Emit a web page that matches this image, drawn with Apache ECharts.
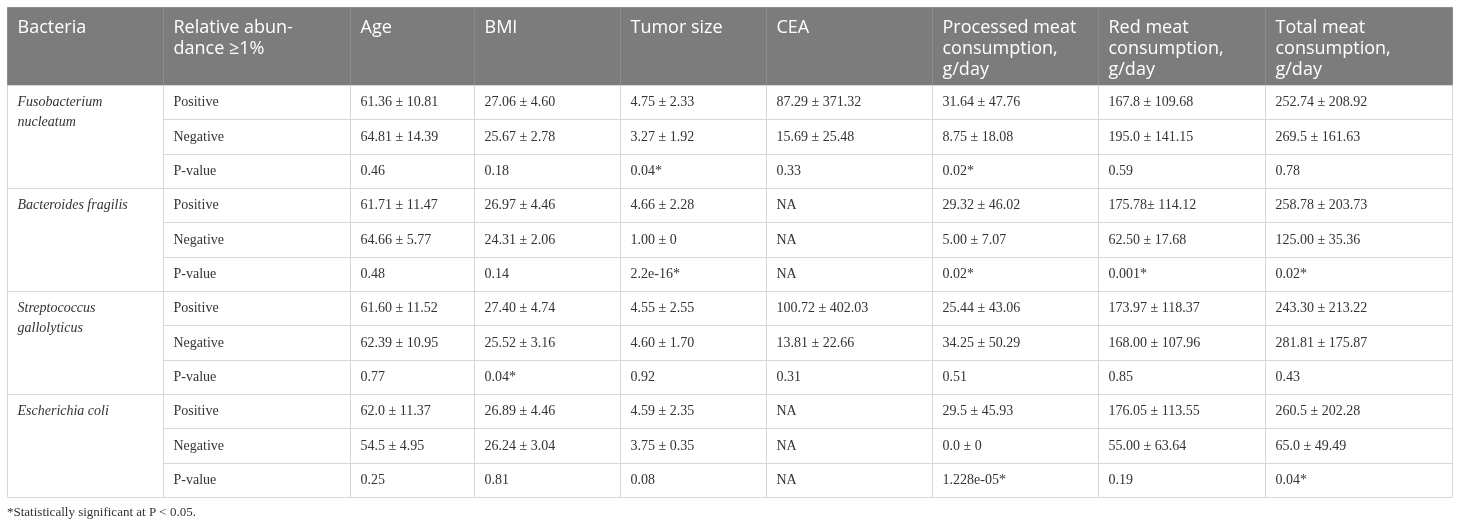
<!DOCTYPE html>
<html>
<head>
<meta charset="utf-8">
<script src="https://cdn.jsdelivr.net/npm/echarts@6/dist/echarts.min.js"></script>
<style>
  html, body { margin: 0; padding: 0; background: #fff; }
  #main { width: 1460px; height: 526px; }
</style>
</head>
<body>
<div id="main"></div>
<script>
"use strict";
// table text, one array per column
var headers = ['Bacteria', 'Relative abun-\ndance \u22651%', 'Age', 'BMI', 'Tumor size', 'CEA',
    'Processed meat\nconsumption,\ng/day', 'Red meat\nconsumption,\ng/day', 'Total meat\nconsumption,\ng/day'];
var bacteria = ['Fusobacterium nucleatum', 'Bacteroides fragilis', 'Streptococcus gallolyticus', 'Escherichia coli'];
var abundance = ['Positive', 'Negative', 'P-value'];
var age = ['61.36 \u00b1 10.81', '64.81 \u00b1 14.39', '0.46',
    '61.71 \u00b1 11.47', '64.66 \u00b1 5.77', '0.48',
    '61.60 \u00b1 11.52', '62.39 \u00b1 10.95', '0.77',
    '62.0 \u00b1 11.37', '54.5 \u00b1 4.95', '0.25'];
var bmi = ['27.06 \u00b1 4.60', '25.67 \u00b1 2.78', '0.18',
    '26.97 \u00b1 4.46', '24.31 \u00b1 2.06', '0.14',
    '27.40 \u00b1 4.74', '25.52 \u00b1 3.16', '0.04*',
    '26.89 \u00b1 4.46', '26.24 \u00b1 3.04', '0.81'];
var tumorSize = ['4.75 \u00b1 2.33', '3.27 \u00b1 1.92', '0.04*',
    '4.66 \u00b1 2.28', '1.00 \u00b1 0', '2.2e-16*',
    '4.55 \u00b1 2.55', '4.60 \u00b1 1.70', '0.92',
    '4.59 \u00b1 2.35', '3.75 \u00b1 0.35', '0.08'];
var cea = ['87.29 \u00b1 371.32', '15.69 \u00b1 25.48', '0.33',
    'NA', 'NA', 'NA',
    '100.72 \u00b1 402.03', '13.81 \u00b1 22.66', '0.31',
    'NA', 'NA', 'NA'];
var processedMeat = ['31.64 \u00b1 47.76', '8.75 \u00b1 18.08', '0.02*',
    '29.32 \u00b1 46.02', '5.00 \u00b1 7.07', '0.02*',
    '25.44 \u00b1 43.06', '34.25 \u00b1 50.29', '0.51',
    '29.5 \u00b1 45.93', '0.0 \u00b1 0', '1.228e-05*'];
var redMeat = ['167.8 \u00b1 109.68', '195.0 \u00b1 141.15', '0.59',
    '175.78\u00b1 114.12', '62.50 \u00b1 17.68', '0.001*',
    '173.97 \u00b1 118.37', '168.00 \u00b1 107.96', '0.85',
    '176.05 \u00b1 113.55', '55.00 \u00b1 63.64', '0.19'];
var totalMeat = ['252.74 \u00b1 208.92', '269.5 \u00b1 161.63', '0.78',
    '258.78 \u00b1 203.73', '125.00 \u00b1 35.36', '0.02*',
    '243.30 \u00b1 213.22', '281.81 \u00b1 175.87', '0.43',
    '260.5 \u00b1 202.28', '65.0 \u00b1 49.49', '0.04*'];
var footnote = '*Statistically significant at P < 0.05.';

// layout (pixel units of the hidden axes)
var colEdges = [0, 156, 343, 467, 613, 759, 925, 1091, 1258, 1445];
var headH = 78, tableH = 490;
var rowH = (tableH - headH) / 12;

// build cells: [col, row, rowSpan, kind] ; row -1 = header
var cells = [], texts = [];
headers.forEach(function(h, c) {
    cells.push([c, -1, 1, 0]); texts.push(h);
});
var valueCols = [age, bmi, tumorSize, cea, processedMeat, redMeat, totalMeat];
bacteria.forEach(function(b, g) {
    cells.push([0, g * 3, 3, 1]); texts.push(b);
    abundance.forEach(function(s, k) {
        var r = g * 3 + k;
        cells.push([1, r, 1, 2]); texts.push(s);
        valueCols.forEach(function(col, j) {
            cells.push([j + 2, r, 1, 2]); texts.push(col[r]);
        });
    });
});

function renderCell(params, api) {
    var c = api.value(0), r = api.value(1), span = api.value(2), kind = api.value(3);
    var y0 = r < 0 ? 0 : headH + r * rowH;
    var y1 = r < 0 ? headH : y0 + span * rowH;
    var p0 = api.coord([colEdges[c], y0]);
    var p1 = api.coord([colEdges[c + 1], y1]);
    var x = Math.round(p0[0]) + 0.5, y = Math.round(p0[1]) + 0.5;
    var w = Math.round(p1[0]) - Math.round(p0[0]);
    var h = Math.round(p1[1]) - Math.round(p0[1]);
    var txt = texts[params.dataIndex];
    var children = [{
        type: 'rect',
        shape: { x: x, y: y, width: w, height: h },
        style: kind === 0 ? { fill: '#7b7c7b', stroke: '#8c8c8c', lineWidth: 1 }
                          : { fill: '#fff', stroke: '#d6d6d6', lineWidth: 1 }
    }];
    if (kind === 0) {
        children.push({
            type: 'text', x: x + 10, y: y + 10,
            style: { text: txt, fill: '#fff', fontFamily: 'Open Sans', fontSize: 18,
                lineHeight: 21, align: 'left', verticalAlign: 'top' }
        });
    } else if (kind === 1) {
        var one = api.coord([0, rowH])[1] - api.coord([0, 0])[1];
        children.push({
            type: 'text', x: x + 10, y: y + (one - 20) / 2,
            style: { text: txt, fill: '#333', fontFamily: 'Liberation Serif', fontSize: 14,
                fontStyle: 'italic', lineHeight: 20, width: 138, overflow: 'break',
                align: 'left', verticalAlign: 'top' }
        });
    } else {
        children.push({
            type: 'text', x: x + 10, y: y + h / 2,
            style: { text: txt, fill: '#333', fontFamily: 'Liberation Serif', fontSize: 14,
                align: 'left', verticalAlign: 'middle' }
        });
    }
    return { type: 'group', children: children };
}

var myChart = echarts.init(document.getElementById('main'));
var option = {
    animation: false,
    grid: { left: 7, top: 7, width: 1445, height: 490 },
    xAxis: { type: 'value', min: 0, max: 1445, show: false },
    yAxis: { type: 'value', min: 0, max: tableH, inverse: true, show: false },
    graphic: [{
        type: 'text', left: 7, top: 506,
        style: { text: footnote, fill: '#333', fontFamily: 'Liberation Serif', fontSize: 13 }
    }],
    series: [{
        type: 'custom',
        clip: false,
        renderItem: renderCell,
        data: cells
    }]
};
myChart.setOption(option);
</script>
</body>
</html>
